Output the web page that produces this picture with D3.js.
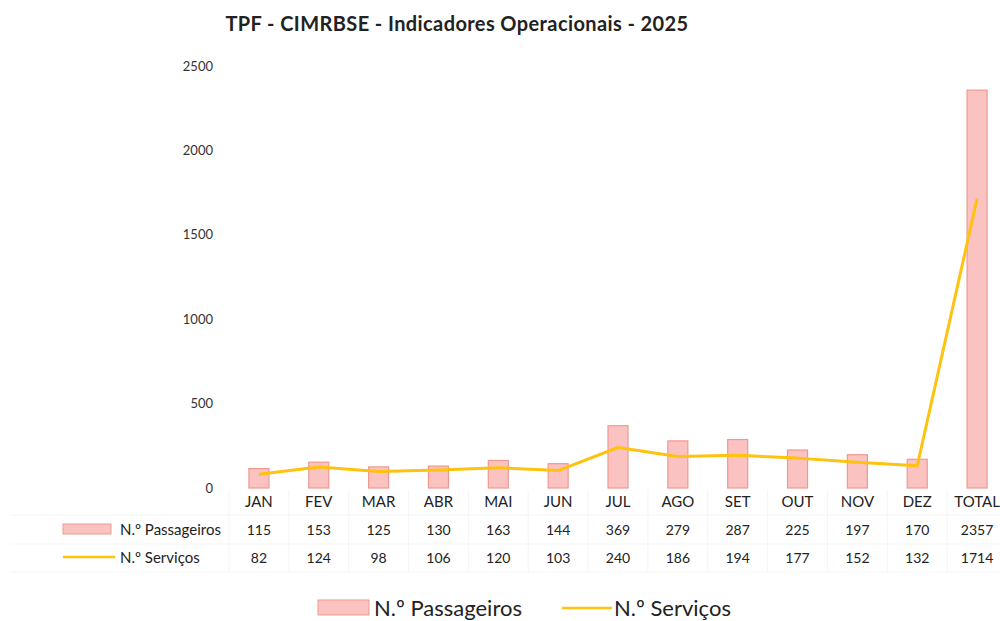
<!DOCTYPE html>
<html>
<head>
<meta charset="utf-8">
<script src="https://cdn.jsdelivr.net/npm/d3@7"></script>
<style>
  body { margin: 0; background: #fff; }
  svg { font-family: Lato, "Open Sans", sans-serif; }
</style>
</head>
<body>
<svg width="1000" height="621"></svg>
<script>
var meses = ["JAN", "FEV", "MAR", "ABR", "MAI", "JUN", "JUL", "AGO", "SET", "OUT", "NOV", "DEZ", "TOTAL"]
var passageiros = [115, 153, 125, 130, 163, 144, 369, 279, 287, 225, 197, 170, 2357]
var servicos = [82, 124, 98, 106, 120, 103, 240, 186, 194, 177, 152, 132, 1714]
var yTicks = [0, 500, 1000, 1500, 2000, 2500]
var series = ["N.º Passageiros", "N.º Serviços"]

var svg = d3.select("svg")

var barFill = "#fac3c2"
var barStroke = "#ef998e"
var lineColor = "#ffc20e"

var x = d3.scaleBand()
    .domain(meses)
    .range([229, 1007])

var y = d3.scaleLinear()
    .domain([0, 2500])
    .range([488, 66])

// titulo
svg.append("text")
    .attr("x", 457)
    .attr("y", 31)
    .attr("text-anchor", "middle")
    .style("font-size", "20px")
    .style("font-weight", "bold")
    .style("letter-spacing", "0.4px")
    .style("fill", "#222")
    .text("TPF - CIMRBSE - Indicadores Operacionais - 2025")

// eixo y, so com os numeros
var yAxis = svg.append("g")
    .attr("transform", "translate(213,0)")
    .call(d3.axisLeft(y).tickValues(yTicks).tickFormat(d3.format("d")).tickSize(0).tickPadding(0))
yAxis.select(".domain").remove()
yAxis.selectAll("text")
    .style("font-family", "Lato, sans-serif")
    .style("font-size", "13px")
    .style("fill", "#333")

// barras
var barW = 20
svg.append("g")
  .selectAll("rect")
  .data(passageiros)
  .join("rect")
    .attr("x", function(d, i) { return x(meses[i]) + x.bandwidth() / 2 - barW / 2 })
    .attr("y", function(d) { return y(d) })
    .attr("width", barW)
    .attr("height", function(d) { return y(0) - y(d) })
    .style("fill", barFill)
    .style("stroke", barStroke)
    .style("stroke-width", 1.2)

// linha dos servicos
var line = d3.line()
    .x(function(d, i) { return x(meses[i]) + x.bandwidth() / 2 })
    .y(function(d) { return y(d) })

svg.append("path")
    .datum(servicos)
    .attr("d", line)
    .style("fill", "none")
    .style("stroke", lineColor)
    .style("stroke-width", 3)
    .style("stroke-linejoin", "round")

// tabela de dados (grelha quase invisivel)
var rowY = [501, 530, 558]
var grid = svg.append("g").style("stroke", "#f5f5f5").style("stroke-width", 1)
;[515, 544, 572].forEach(function(yy) {
  grid.append("line").attr("x1", 10).attr("x2", 1000).attr("y1", yy).attr("y2", yy)
})
meses.forEach(function(m) {
  grid.append("line").attr("x1", x(m)).attr("x2", x(m)).attr("y1", 490).attr("y2", 572)
})

var table = svg.append("g")
    .style("font-size", "15px")
    .style("fill", "#222")
    .attr("text-anchor", "middle")

table.selectAll("text.cat")
  .data(meses)
  .join("text")
    .attr("class", "cat")
    .attr("x", function(d) { return x(d) + x.bandwidth() / 2 })
    .attr("y", rowY[0] + 6)
    .text(function(d) { return d })

;[passageiros, servicos].forEach(function(vals, r) {
  table.selectAll("text.r" + r)
    .data(vals)
    .join("text")
      .attr("class", "r" + r)
      .attr("x", function(d, i) { return x(meses[i]) + x.bandwidth() / 2 })
      .attr("y", rowY[r + 1] + 5)
      .style("font-size", "14px")
      .text(function(d) { return d })
})

// chaves da legenda na tabela
svg.append("rect")
    .attr("x", 63).attr("y", 524).attr("width", 48).attr("height", 10)
    .style("fill", barFill).style("stroke", barStroke)
svg.append("line")
    .attr("x1", 63).attr("x2", 115).attr("y1", 557).attr("y2", 557)
    .style("stroke", lineColor).style("stroke-width", 2.5)
svg.append("text")
    .attr("x", 120).attr("y", rowY[1] + 5)
    .style("font-size", "15px").style("fill", "#222")
    .text(series[0])
svg.append("text")
    .attr("x", 120).attr("y", rowY[2] + 5)
    .style("font-size", "15px").style("fill", "#222")
    .text(series[1])

// legenda em baixo
svg.append("rect")
    .attr("x", 318).attr("y", 600).attr("width", 51).attr("height", 15)
    .style("fill", barFill).style("stroke", barStroke)
svg.append("text")
    .attr("x", 374).attr("y", 616)
    .style("font-size", "22px").style("fill", "#222")
    .text(series[0])
svg.append("line")
    .attr("x1", 562).attr("x2", 612).attr("y1", 608).attr("y2", 608)
    .style("stroke", lineColor).style("stroke-width", 2.5)
svg.append("text")
    .attr("x", 614).attr("y", 616)
    .style("font-size", "22px").style("fill", "#222")
    .text(series[1])
</script>
</body>
</html>
